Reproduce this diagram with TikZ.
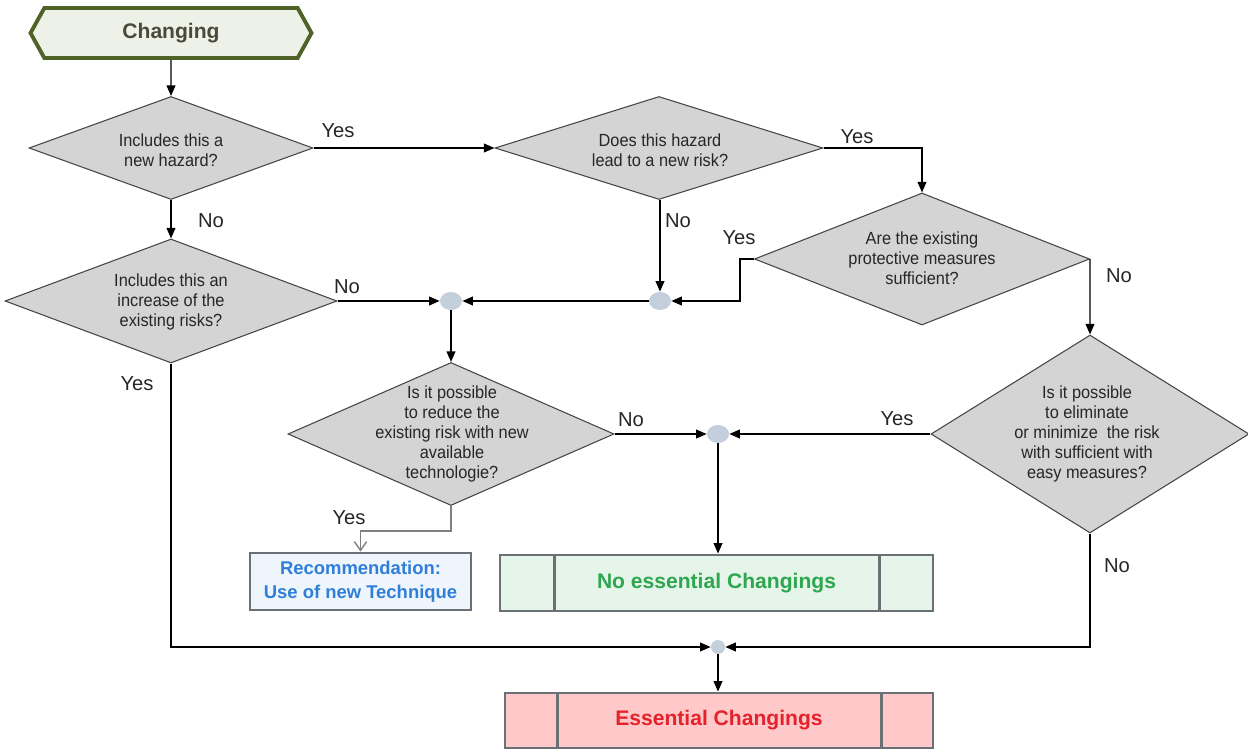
\documentclass[tikz,border=0pt]{standalone}
\usepackage{fontspec}
\setmainfont{Liberation Sans}
\newfontfamily\condfont{Liberation Sans}[FakeStretch=0.93]
\usetikzlibrary{shapes.geometric,shapes.symbols,arrows.meta,calc}
\newcommand\pxu{0.02cm}
\definecolor{diafill}{HTML}{D4D4D4}
\definecolor{diaborder}{HTML}{454545}
\definecolor{juncfill}{HTML}{C3CFDA}
\definecolor{hexfill}{HTML}{EEF1E7}
\definecolor{hexborder}{HTML}{4F6228}
\definecolor{hextext}{HTML}{4A4A3A}
\definecolor{boxborder}{HTML}{6B7076}
\definecolor{recfill}{HTML}{EEF5FD}
\definecolor{rectext}{HTML}{2F7FD8}
\definecolor{nofill}{HTML}{E5F5EA}
\definecolor{notext}{HTML}{2FA650}
\definecolor{essfill}{HTML}{FFC9C9}
\definecolor{esstext}{HTML}{E5212B}
\definecolor{grayline}{HTML}{808080}
\begin{document}
\begin{tikzpicture}[x=0.02cm,y=-0.02cm,
  dia/.style={diamond, draw=diaborder, fill=diafill, line width=0.6pt, inner sep=0pt, aspect=1.6},
  qtxt/.style={font=\condfont\fontsize{10}{11.4}\selectfont, align=center, text=black!85, inner sep=0pt},
  lbl/.style={font=\fontsize{11.5}{13}\selectfont, inner sep=0pt, text=black!85},
  arr/.style={-{Triangle[length=6pt,width=5pt]}, line width=0.8pt},
  junc/.style={ellipse, fill=juncfill, minimum width=22*\pxu, minimum height=18*\pxu, inner sep=0pt},
  endbox/.style={rectangle, draw=boxborder, line width=1.6pt, inner sep=0pt, font=\bfseries\fontsize{12}{14}\selectfont},
  innerline/.style={draw=boxborder, line width=1.6pt}
]
\useasboundingbox (0,0) rectangle (1248,749);

% start hexagon
\node[signal, signal to=east and west, signal pointer angle=122, draw=hexborder, fill=hexfill, line width=2.2pt,
      minimum width=281*\pxu, minimum height=50*\pxu, inner sep=0pt,
      font=\bfseries\fontsize{12}{14}\selectfont, text=hextext] (start) at (171,33) {Changing};

% decisions
\node[dia, minimum width=284*\pxu, minimum height=103*\pxu] (d1) at (171,148) {};
\node[qtxt] (t1) at (171,150) {Includes this a\\new hazard?};
\node[dia, minimum width=328*\pxu, minimum height=103*\pxu] (d2) at (659,148) {};
\node[qtxt] (t2) at (660,150) {Does this hazard\\lead to a new risk?};
\node[dia, minimum width=335*\pxu, minimum height=132*\pxu] (d3) at (922,259) {};
\node[qtxt] (t3) at (922,258) {Are the existing\\protective measures\\sufficient?};
\node[dia, minimum width=318*\pxu, minimum height=198*\pxu] (d4) at (1090,434) {};
\node[qtxt] (t4) at (1087,434) {Is it possible\\to eliminate\\or minimize\ \ the risk\\with sufficient with\\easy measures?};
\node[dia, minimum width=332*\pxu, minimum height=124*\pxu] (d5) at (171,301) {};
\node[qtxt] (t5) at (171,302) {Includes this an\\increase of the\\existing risks?};
\node[dia, minimum width=326*\pxu, minimum height=143*\pxu] (d6) at (451,434) {};
\node[qtxt] (t6) at (452,434) {Is it possible\\to reduce the\\existing risk with new\\available\\technologie?};

% junctions
\node[junc] (c1) at (451,301) {};
\node[junc] (c2) at (660,301) {};
\node[junc] (c3) at (718,434) {};
\node[junc, minimum width=14*\pxu, minimum height=14*\pxu] (c4) at (718,647) {};

% result boxes
\node[endbox, fill=recfill, text=rectext, align=center, minimum width=221*\pxu, minimum height=57*\pxu,
      font=\bfseries\fontsize{10.5}{13.5}\selectfont] (rec) at (360.5,581.5) {Recommendation:\\Use of new Technique};
\node[endbox, fill=nofill, text=notext, minimum width=433*\pxu, minimum height=56*\pxu] (noess) at (716.5,583) {No essential Changings};
\draw[innerline] ($(noess.north west)+(56,0)$) -- ($(noess.south west)+(56,0)$);
\draw[innerline] ($(noess.north east)+(-55,0)$) -- ($(noess.south east)+(-55,0)$);
\node[endbox, fill=essfill, text=esstext, minimum width=428*\pxu, minimum height=55*\pxu] (ess) at (719,720.5) {Essential Changings};
\draw[innerline] ($(ess.north west)+(54,0)$) -- ($(ess.south west)+(54,0)$);
\draw[innerline] ($(ess.north east)+(-53,0)$) -- ($(ess.south east)+(-53,0)$);

% connectors
\draw[arr] (start) -- (d1.north);
\draw[arr] (d1.east) -- (d2.west);
\draw[arr] (d2.east) -| (d3.north);
\draw[arr] (d2.south -| c2) -- (c2);
\draw[arr] (d3.west) -- ++(-14,0) |- (c2);
\draw[arr] (d3.east) -- (d4.north);
\draw[arr] (d1.south) -- (d5.north);
\draw[arr] (d5.east) -- (c1);
\draw[arr] (c2) -- (c1);
\draw[arr] (c1) -- (d6.north);
\draw[arr] (d6.east) -- (c3);
\draw[arr] (d4.west) -- (c3);
\draw[arr] (c3) -- (c3 |- noess.north);
\draw[arr] (d5.south) |- (c4);
\draw[arr] (d4.south) |- (c4);
\draw[arr] (c4) -- (c4 |- ess.north);
\draw[draw=grayline, line width=0.8pt, -{Straight Barb[length=5pt,width=7pt]}] (d6.south) -- ++(0,25) -| (rec.north);

% branch labels
\node[lbl] (l1) at (338,131) {Yes};
\node[lbl] (l2) at (211,221) {No};
\node[lbl] (l3) at (857,137) {Yes};
\node[lbl] (l4) at (678,221) {No};
\node[lbl] (l5) at (739,238) {Yes};
\node[lbl] (l6) at (1119,276) {No};
\node[lbl] (l7) at (347,287) {No};
\node[lbl] (l8) at (137,384) {Yes};
\node[lbl] (l9) at (631,420) {No};
\node[lbl] (l10) at (349,518) {Yes};
\node[lbl] (l11) at (897,419) {Yes};
\node[lbl] (l12) at (1117,566) {No};
\end{tikzpicture}
\end{document}
